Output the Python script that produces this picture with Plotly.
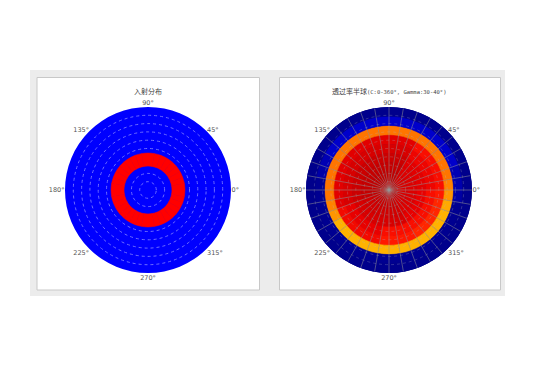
import numpy as np
import plotly.graph_objects as go
from plotly.colors import sample_colorscale

# ---------------- data ----------------
tick_angles = [0, 45, 90, 135, 180, 225, 270, 315]
tick_labels = ["0°", "45°", "90°", "135°", "180°", "225°", "270°", "315°"]

sector_centers = list(range(5, 360, 10))          # C angle bins (10° wide)
gamma_edges = [0, 10, 20, 30, 40, 50, 60, 70, 80, 90]

# incident distribution: ring of incident light (gamma range)
incident_ring_inner = 26
incident_ring_outer = 40

# transmittance hemisphere (rows: gamma bins 0-10 ... 80-90, cols: C sectors)
trans_g00 = [0.935] * 36
trans_g10 = [0.925, 0.925, 0.925, 0.925, 0.925, 0.925, 0.945, 0.945, 0.945, 0.945, 0.945, 0.945,
             0.945, 0.945, 0.945, 0.945, 0.945, 0.945, 0.945, 0.945, 0.935, 0.935, 0.935, 0.935,
             0.935, 0.935, 0.935, 0.935, 0.935, 0.935, 0.925, 0.925, 0.925, 0.925, 0.925, 0.925]
trans_g20 = [0.92, 0.92, 0.92, 0.92, 0.92, 0.92, 0.94, 0.94, 0.94, 0.94, 0.94, 0.94,
             0.94, 0.94, 0.94, 0.94, 0.94, 0.94, 0.94, 0.94, 0.93, 0.93, 0.93, 0.93,
             0.93, 0.93, 0.93, 0.93, 0.93, 0.93, 0.92, 0.92, 0.92, 0.92, 0.92, 0.92]
trans_g30 = [0.915, 0.915, 0.915, 0.915, 0.915, 0.915, 0.935, 0.935, 0.935, 0.935, 0.935, 0.935,
             0.935, 0.935, 0.935, 0.935, 0.935, 0.935, 0.935, 0.935, 0.925, 0.925, 0.925, 0.925,
             0.925, 0.925, 0.925, 0.925, 0.925, 0.925, 0.91, 0.91, 0.91, 0.91, 0.91, 0.91]
trans_g40 = [0.905, 0.905, 0.905, 0.905, 0.905, 0.905, 0.925, 0.925, 0.925, 0.925, 0.925, 0.925,
             0.925, 0.925, 0.925, 0.925, 0.925, 0.925, 0.925, 0.925, 0.91, 0.91, 0.91, 0.91,
             0.91, 0.91, 0.895, 0.895, 0.895, 0.895, 0.895, 0.895, 0.895, 0.895, 0.895, 0.895]
trans_g50 = [0.895, 0.895, 0.895, 0.895, 0.895, 0.895, 0.915, 0.915, 0.915, 0.915, 0.915, 0.915,
             0.915, 0.915, 0.915, 0.915, 0.915, 0.915, 0.915, 0.915, 0.90, 0.90, 0.90, 0.90,
             0.90, 0.90, 0.885, 0.885, 0.885, 0.885, 0.87, 0.87, 0.87, 0.87, 0.87, 0.885]
trans_g60 = [0.77, 0.785, 0.785, 0.785, 0.785, 0.785, 0.785, 0.785, 0.785, 0.785, 0.785, 0.785,
             0.785, 0.785, 0.785, 0.785, 0.785, 0.785, 0.785, 0.77, 0.75, 0.72, 0.72, 0.72,
             0.72, 0.72, 0.72, 0.72, 0.72, 0.72, 0.72, 0.72, 0.72, 0.72, 0.73, 0.75]
trans_g70 = [0.04, 0.045, 0.065, 0.065, 0.065, 0.065, 0.065, 0.065, 0.065, 0.065, 0.065, 0.065,
             0.065, 0.065, 0.065, 0.045, 0.035, 0.015, 0.015, 0.015, 0.015, 0.015, 0.015, 0.015,
             0.015, 0.015, 0.015, 0.015, 0.015, 0.015, 0.015, 0.015, 0.015, 0.015, 0.015, 0.03]
trans_g80 = [0.01] * 36
transmittance = [trans_g00, trans_g10, trans_g20, trans_g30, trans_g40,
                 trans_g50, trans_g60, trans_g70, trans_g80]

# matplotlib-like jet colorscale
jet = [[0.0, "rgb(0,0,128)"], [0.11, "rgb(0,0,255)"], [0.125, "rgb(0,0,255)"],
       [0.35, "rgb(0,229,255)"], [0.375, "rgb(20,255,239)"], [0.64, "rgb(250,255,0)"],
       [0.66, "rgb(255,234,0)"], [0.89, "rgb(255,19,0)"], [0.91, "rgb(232,0,0)"],
       [1.0, "rgb(128,0,0)"]]

# ---------------- figure ----------------
W, H = 540, 380
fig = go.Figure()

def px_x(x):
    return x / W

def px_y(y):
    return 1 - y / H

# background frames
shapes = [
    dict(type="rect", xref="paper", yref="paper", x0=px_x(30), x1=px_x(505),
         y0=px_y(296), y1=px_y(70), fillcolor="#ececec", line=dict(width=0), layer="below"),
    dict(type="rect", xref="paper", yref="paper", x0=px_x(37), x1=px_x(259.5),
         y0=px_y(290), y1=px_y(77.5), fillcolor="white", line=dict(color="#c8c8c8", width=1), layer="below"),
    dict(type="rect", xref="paper", yref="paper", x0=px_x(279.5), x1=px_x(500.5),
         y0=px_y(290), y1=px_y(77.5), fillcolor="white", line=dict(color="#c8c8c8", width=1), layer="below"),
]

# left: incident ring
fig.add_trace(go.Barpolar(
    theta=sector_centers,
    r=[incident_ring_outer - incident_ring_inner] * len(sector_centers),
    base=[incident_ring_inner] * len(sector_centers),
    width=[10] * len(sector_centers),
    marker=dict(color="#ff0000", line=dict(color="#ff0000", width=0.6)),
    subplot="polar", hoverinfo="skip", showlegend=False,
))

# right: transmittance cells
th, rr, bb, cc = [], [], [], []
for gi, row in enumerate(transmittance):
    for ci, v in enumerate(row):
        th.append(sector_centers[ci])
        rr.append(gamma_edges[gi + 1] - gamma_edges[gi])
        bb.append(gamma_edges[gi])
        cc.append(v)
cols = sample_colorscale(jet, cc)
fig.add_trace(go.Barpolar(
    theta=th, r=rr, base=bb, width=[10] * len(th),
    marker=dict(color=cols, line=dict(color=cols, width=0.6)),
    subplot="polar2", hoverinfo="skip", showlegend=False,
))

# right: grid overlays (spokes + dashed circles)
sp_t, sp_r = [], []
for a in range(0, 360, 10):
    sp_t += [a, a, None]
    sp_r += [0, 90, None]
ci_t, ci_r = [], []
circ = np.linspace(0, 360, 181).tolist()
for k in range(1, 10):
    ci_t += circ + [None]
    ci_r += [9 * k] * len(circ) + [None]
fig.add_trace(go.Scatterpolar(theta=ci_t, r=ci_r, mode="lines",
                              line=dict(color="rgba(180,180,200,0.45)", width=0.6, dash="dot"),
                              subplot="polar2", hoverinfo="skip", showlegend=False))
fig.add_trace(go.Scatterpolar(theta=sp_t, r=sp_r, mode="lines",
                              line=dict(color="rgba(150,150,150,0.85)", width=0.6),
                              subplot="polar2", hoverinfo="skip", showlegend=False))

tickfont = dict(family="DejaVu Sans", size=6.5, color="#555")

def polar_layout(x0, x1, bg, grid_on):
    return dict(
        domain=dict(x=[px_x(x0), px_x(x1)], y=[px_y(273), px_y(107)]),
        bgcolor=bg,
        bargap=0,
        radialaxis=dict(range=[0, 90], tickvals=[9 * k for k in range(1, 11)],
                        showticklabels=False, ticks="", showline=False,
                        showgrid=grid_on, gridcolor="rgba(110,110,255,1)",
                        griddash="dot", gridwidth=0.7),
        angularaxis=dict(tickvals=tick_angles, ticktext=tick_labels, direction="counterclockwise",
                         rotation=0, showgrid=False, showline=False, ticks="",
                         tickfont=tickfont),
    )

fig.update_layout(
    width=W, height=H,
    margin=dict(l=0, r=0, t=0, b=0),
    paper_bgcolor="white",
    shapes=shapes,
    polar=polar_layout(65, 231, "#0000ff", True),
    polar2=polar_layout(306, 472, "#000080", False),
    annotations=[
        dict(text="入射分布", x=px_x(148), y=px_y(91), xref="paper", yref="paper",
             xanchor="center", yanchor="middle",
             showarrow=False, font=dict(family="Noto Sans CJK SC", size=7, color="#444")),
        dict(text="透过率半球<span style='font-size:5.5px;font-family:DejaVu Sans Mono'>(C:0-360°, Gamma:30-40°)</span>",
             x=px_x(389), y=px_y(91), xref="paper", yref="paper",
             xanchor="center", yanchor="middle",
             showarrow=False, font=dict(family="Noto Sans CJK SC", size=7, color="#444")),
    ],
)

fig.write_html("out.html")
